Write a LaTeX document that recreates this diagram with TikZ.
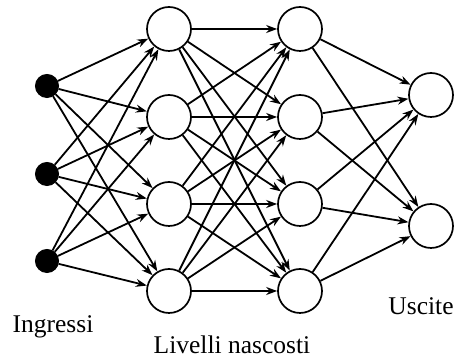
\documentclass[tikz,border=0pt]{standalone}
\usepackage{fontspec}
\setmainfont{Liberation Serif}
\usetikzlibrary{arrows.meta}
\begin{document}
\begin{tikzpicture}[x=1pt,y=1pt,
  neuron/.style={circle,draw,line width=1.7pt,minimum size=44pt,inner sep=0pt,fill=white},
  inneuron/.style={circle,fill=black,draw,line width=1pt,minimum size=23pt,inner sep=0pt},
  conn/.style={line width=1.8pt,-{Stealth[length=11pt,width=8pt]}},
  lbl/.style={font=\fontsize{25.5}{30}\selectfont}]
\useasboundingbox (0,0) rectangle (456,358);
% inputs
\node[inneuron] (i1) at (47,272) {};
\node[inneuron] (i2) at (47,184) {};
\node[inneuron] (i3) at (47,97) {};
% hidden 1
\node[neuron] (a1) at (169,329) {};
\node[neuron] (a2) at (169,241) {};
\node[neuron] (a3) at (169,154) {};
\node[neuron] (a4) at (169,67) {};
% hidden 2
\node[neuron] (b1) at (300,329) {};
\node[neuron] (b2) at (300,241) {};
\node[neuron] (b3) at (300,154) {};
\node[neuron] (b4) at (300,67) {};
% outputs
\node[neuron] (o1) at (431,263) {};
\node[neuron] (o2) at (431,132) {};
% connections
\foreach \s in {i1,i2,i3}
  \foreach \t in {a1,a2,a3,a4}
    \draw[conn] (\s) -- (\t);
\foreach \s in {a1,a2,a3,a4}
  \foreach \t in {b1,b2,b3,b4}
    \draw[conn] (\s) -- (\t);
\foreach \s in {b1,b2,b3,b4}
  \foreach \t in {o1,o2}
    \draw[conn] (\s) -- (\t);
% labels
\node[lbl] (l1) at (53,31) {Ingressi};
\node[lbl] (l2) at (232,13) {Livelli nascosti};
\node[lbl] (l3) at (421,52) {Uscite};
\end{tikzpicture}
\end{document}
